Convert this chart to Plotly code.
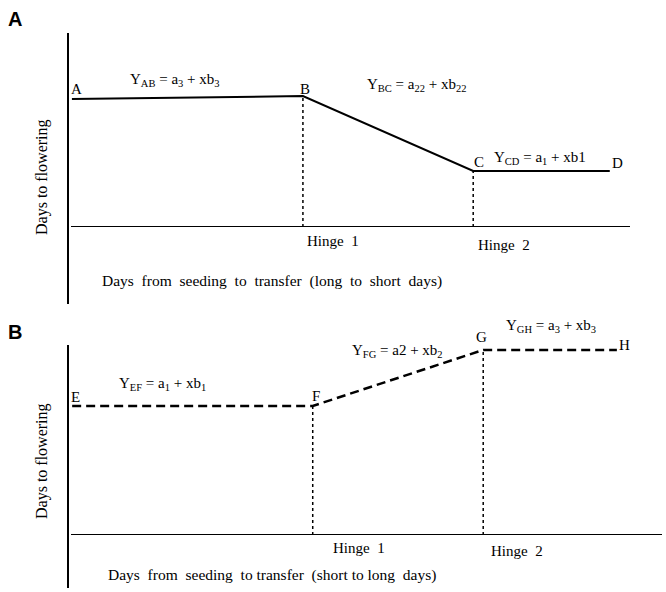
import plotly.graph_objects as go

# ---- data (schematic units) ----
# Panel A: long to short days
a_labels = ["A", "B", "C", "D"]
a_x = [0.7, 41.8, 72.1, 96.4]
a_y = [66.7, 68.2, 29.2, 29.2]
a_hinges_x = [41.8, 72.1]
a_hinges_y = [68.2, 29.2]
a_hinge_names = ["Hinge  1", "Hinge  2"]
a_equations = ["Y<sub>AB</sub> = a<sub>3</sub> + xb<sub>3</sub>",
               "Y<sub>BC</sub> = a<sub>22</sub> + xb<sub>22</sub>",
               "Y<sub>CD</sub> = a<sub>1</sub> + xb1"]

# Panel B: short to long days
b_labels = ["E", "F", "G", "H"]
b_x = [0.7, 41.2, 69.9, 92.4]
b_y = [67.9, 67.9, 97.4, 97.4]
b_hinges_x = [41.2, 69.9]
b_hinges_y = [67.9, 97.4]
b_hinge_names = ["Hinge  1", "Hinge  2"]
b_equations = ["Y<sub>EF</sub> = a<sub>1</sub> + xb<sub>1</sub>",
               "Y<sub>FG</sub> = a2 + xb<sub>2</sub>",
               "Y<sub>GH</sub> = a<sub>3</sub> + xb<sub>3</sub>"]

W, H = 666, 592
SERIF = "Liberation Serif, Times New Roman, serif"
FS = 15

def px(xp):
    return xp / W

def py(yp):
    return 1 - yp / H

fig = go.Figure()

# Panel A traces
fig.add_trace(go.Scatter(x=a_x, y=a_y, mode="lines", line=dict(color="black", width=2),
                         xaxis="x", yaxis="y", showlegend=False, hoverinfo="skip"))
for hx, hy in zip(a_hinges_x, a_hinges_y):
    fig.add_trace(go.Scatter(x=[hx, hx], y=[0, hy], mode="lines",
                             line=dict(color="black", width=1.5, dash="dot"),
                             xaxis="x", yaxis="y", showlegend=False, hoverinfo="skip"))

# Panel B traces
fig.add_trace(go.Scatter(x=b_x, y=b_y, mode="lines", line=dict(color="black", width=2.5, dash="9px,5px"),
                         xaxis="x2", yaxis="y2", showlegend=False, hoverinfo="skip"))
for hx, hy in zip(b_hinges_x, b_hinges_y):
    fig.add_trace(go.Scatter(x=[hx, hx], y=[0, hy], mode="lines",
                             line=dict(color="black", width=1.5, dash="dot"),
                             xaxis="x2", yaxis="y2", showlegend=False, hoverinfo="skip"))

hidden = dict(showgrid=False, zeroline=False, showticklabels=False, ticks="", showline=False)
fig.update_layout(
    width=W, height=H,
    margin=dict(l=0, r=0, t=0, b=0),
    plot_bgcolor="white", paper_bgcolor="white",
    xaxis=dict(domain=[px(68), px(630)], range=[0, 100], anchor="y", **hidden),
    yaxis=dict(domain=[py(227), py(35)], range=[0, 100], anchor="x", **hidden),
    xaxis2=dict(domain=[px(68), px(662)], range=[0, 100], anchor="y2", **hidden),
    yaxis2=dict(domain=[py(535), py(345)], range=[0, 100], anchor="x2", **hidden),
    font=dict(family=SERIF, size=FS, color="black"),
)

shapes = [
    # Panel A axes
    dict(type="line", xref="paper", yref="paper", x0=px(68), x1=px(68), y0=py(304), y1=py(33),
         line=dict(color="black", width=2)),
    dict(type="line", xref="paper", yref="y", x0=px(71), x1=px(630), y0=0, y1=0,
         line=dict(color="black", width=2)),
    # Panel B axes
    dict(type="line", xref="paper", yref="paper", x0=px(68), x1=px(68), y0=py(588), y1=py(345),
         line=dict(color="black", width=2)),
    dict(type="line", xref="paper", yref="y2", x0=px(71), x1=px(662), y0=0, y1=0,
         line=dict(color="black", width=2)),
]
fig.update_layout(shapes=shapes)

ann = []
def t(text, xp, yp, **kw):
    d = dict(text=text, x=px(xp), y=py(yp), xref="paper", yref="paper", showarrow=False,
             xanchor="center", yanchor="middle",
             font=dict(family=SERIF, size=FS, color="black"))
    d.update(kw)
    ann.append(d)

SANS = dict(family="Liberation Sans, Arial, sans-serif", size=20, color="black")
t("<b>A</b>", 15, 19, font=SANS)
t("<b>B</b>", 15, 332, font=SANS)

# Panel A labels
for lab, (x, y) in zip(a_labels, [(76, 89), (305, 89), (479, 162), (617, 163)]):
    t(lab, x, y)
for eq, (x, y) in zip(a_equations, [(175, 80), (416, 85), (540, 158)]):
    t(eq, x, y)
t(a_hinge_names[0], 333, 241)
t(a_hinge_names[1], 504, 245)
t("Days  from  seeding  to  transfer  (long  to  short  days)", 272, 281,
  font=dict(family=SERIF, size=15.5, color="black"))
t("Days to flowering", 42, 177, textangle=-90, font=dict(family=SERIF, size=16, color="black"))

# Panel B labels
for lab, (x, y) in zip(b_labels, [(75, 397), (316, 396), (481, 337), (624, 345)]):
    t(lab, x, y)
for eq, (x, y) in zip(b_equations, [(162, 384), (397, 351), (551, 326)]):
    t(eq, x, y)
t(b_hinge_names[0], 359, 548)
t(b_hinge_names[1], 517, 551)
t("Days  from  seeding  to transfer  (short to long  days)", 272, 575,
  font=dict(family=SERIF, size=15.5, color="black"))
t("Days to flowering", 42, 461, textangle=-90, font=dict(family=SERIF, size=16, color="black"))

fig.update_layout(annotations=ann)
fig.write_html("out.html", config={"displayModeBar": False},
               post_script="document.body.style.margin='0';")
